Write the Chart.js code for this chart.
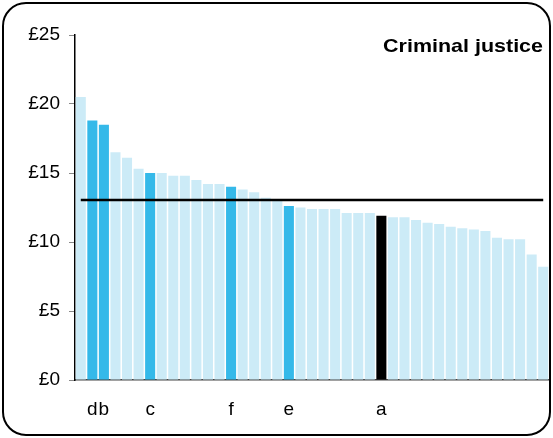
<!DOCTYPE html>
<html>
<head>
<meta charset="utf-8">
<script src="https://cdn.jsdelivr.net/npm/chart.js@4"></script>
<style>
    body { margin: 0; background: #fff; }
    #wrap { position: relative; width: 553px; height: 438px; }
    #frame {
        position: absolute; left: 2px; top: 2px; width: 549px; height: 434px;
        box-sizing: border-box; border: 2px solid #000; border-radius: 24px;
        pointer-events: none;
    }
</style>
</head>
<body>
<div id="wrap">
    <canvas id="chart" width="553" height="438"></canvas>
    <div id="frame"></div>
</div>
<script>
// Only the named units get a label under their bar
const categories = ['', 'd', 'b', '', '', '', 'c', '', '', '', '', '', '', 'f', '', '', '', '',
    'e', '', '', '', '', '', '', '', 'a', '', '', '', '', '', '', '', '', '', '', '', '', '', ''];
// Spend per head, £, sorted high to low
const values = [20.5, 18.8, 18.5, 16.5, 16.1, 15.3, 15.0, 15.0, 14.8, 14.8, 14.5, 14.2, 14.2, 14.0,
    13.8, 13.6, 13.2, 13.0, 12.6, 12.5, 12.4, 12.4, 12.4, 12.1, 12.1, 12.1, 11.9,
    11.8, 11.8, 11.6, 11.4, 11.3, 11.1, 11.0, 10.9, 10.8, 10.3, 10.2, 10.2, 9.1, 8.2];
const highlighted = ['d', 'b', 'c', 'f', 'e'];
const selected = ['a'];
const benchmark = 13.05;
const yTicks = [0, 5, 10, 15, 20, 25];

const FONT = '"Liberation Sans", Arial, sans-serif';

const barColors = categories.map(function (c) {
    if (selected.includes(c)) return '#000000';
    if (highlighted.includes(c)) return '#35B9E9';
    return '#CCEBF7';
});

// title sits inside the plot, top right
const titlePlugin = {
    id: 'cornerTitle',
    afterDraw(chart) {
        const ctx = chart.ctx;
        ctx.save();
        ctx.font = 'bold 19px ' + FONT;
        ctx.fillStyle = '#000';
        ctx.textAlign = 'right';
        ctx.textBaseline = 'alphabetic';
        ctx.translate(543, 52);
        ctx.scale(1.13, 1);
        ctx.fillText('Criminal justice', 0, 0);
        ctx.restore();
    }
};

new Chart(document.getElementById('chart'), {
    data: {
        labels: categories,
        datasets: [
            {
                type: 'line',
                data: categories.map(() => benchmark),
                borderColor: '#000',
                borderWidth: 2.5,
                pointRadius: 0,
                order: 0
            },
            {
                type: 'bar',
                data: values,
                backgroundColor: barColors,
                categoryPercentage: 1,
                barPercentage: 0.87,
                order: 1
            }
        ]
    },
    options: {
        responsive: false,
        animation: false,
        layout: { padding: { top: 35, right: 4, left: 0, bottom: 0 } },
        plugins: { legend: { display: false }, tooltip: { enabled: false } },
        scales: {
            x: {
                grid: { display: true, drawOnChartArea: false, drawTicks: true, tickLength: 18, color: 'rgba(0,0,0,0)' },
                border: { display: true, color: '#444', width: 1.5 },
                ticks: {
                    autoSkip: false, maxRotation: 0, minRotation: 0, padding: 0,
                    color: '#000', font: { family: FONT, size: 19 }
                },
                afterFit(scale) { scale.height = 58; }
            },
            y: {
                min: 0, max: 25,
                afterBuildTicks(scale) { scale.ticks = yTicks.map(v => ({ value: v })); },
                grid: { drawOnChartArea: false, tickLength: 6, color: '#888' },
                border: { display: true, color: '#000', width: 1.5 },
                ticks: {
                    padding: 9, color: '#000', font: { family: FONT, size: 19 },
                    callback: v => '£' + v
                },
                afterFit(scale) { scale.width = 75; }
            }
        }
    },
    plugins: [titlePlugin]
});
</script>
</body>
</html>
